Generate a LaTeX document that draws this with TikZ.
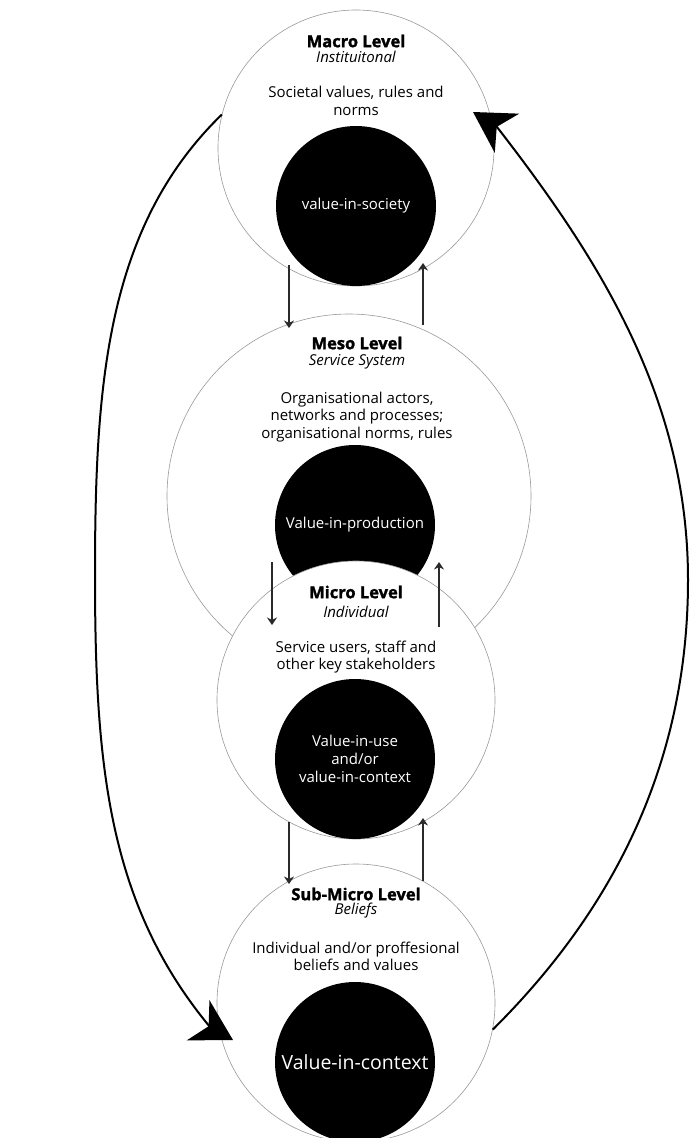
\documentclass[tikz,border=0pt]{standalone}
\usepackage{fontspec}
\setmainfont{Open Sans}
\newfontfamily\headfont{Open Sans}[UprightFont={* Bold}, UprightFeatures={FakeBold=1.6}]
\usetikzlibrary{arrows.meta}
\definecolor{ringgray}{HTML}{9A9A9A}
\definecolor{flowgray}{HTML}{2A2A2A}
\begin{document}
\begin{tikzpicture}[x=1pt,y=-1pt,
  ring/.style={circle, draw=ringgray, line width=0.6pt, fill=white, inner sep=0pt},
  core/.style={circle, fill=black, text=white, inner sep=0pt, minimum size=160pt,
    align=center, font=\fontsize{15}{18}\selectfont},
  leveltitle/.style={font=\fontsize{16.5}{20}\headfont, inner sep=0pt},
  levelsub/.style={font=\fontsize{15}{18}\selectfont\itshape, inner sep=0pt},
  leveldesc/.style={font=\fontsize{15}{17.5}\selectfont, align=center, inner sep=0pt},
  flow/.style={draw=flowgray, line width=1.4pt, -{Stealth[length=7.5pt,width=10pt,inset=2.5pt]}},
  cyclearrow/.style={draw=black, line width=2pt, -{Stealth[length=40pt,width=46pt,inset=12pt]}},
]
\path[clip] (0,0) rectangle (689,1138);

% level circles with their core values
\node[ring, minimum size=276pt] (macro) at (356,148) {};
\node[core] (macrocore) at (356,206) {value-in-society};

\node[ring, minimum size=364pt] (meso) at (349,496) {};
\node[core] (mesocore) at (355,525) {Value-in-production};

\node[ring, minimum size=278pt] (micro) at (356,700) {};
\node[core] (microcore) at (355,759) {Value-in-use\\and/or\\value-in-context};

\node[ring, minimum size=278pt] (sub) at (356,1003) {};
\node[core, font=\fontsize{19.5}{23}\selectfont] (subcore) at (355,1062) {Value-in-context};

% labels
\node[leveltitle] (macrot) at (356,41) {Macro Level};
\node[levelsub] (macros) at (356,57) {Instituitonal};
\node[leveldesc] (macrod) at (356,101) {Societal values, rules and\\norms};

\node[leveltitle] (mesot) at (357,343) {Meso Level};
\node[levelsub] (mesos) at (357,362) {Service System};
\node[leveldesc] (mesod) at (357,417) {Organisational actors,\\networks and processes;\\organisational norms, rules};

\node[leveltitle] (microt) at (356,592) {Micro Level};
\node[levelsub] (micros) at (356,612) {Individual};
\node[leveldesc] (microd) at (356,657) {Service users, staff and\\other key stakeholders};

\node[leveltitle] (subt) at (356,894) {Sub-Micro Level};
\node[levelsub] (subs) at (356,911) {Beliefs};
\node[leveldesc] (subd) at (356,956.5) {Individual and/or proffesional\\beliefs and values};

% flows between neighbouring levels
\coordinate (ma1) at (289,265); \coordinate (me1) at (289,328);
\coordinate (me2) at (423,325); \coordinate (ma2) at (423,263);
\coordinate (me3) at (272,562); \coordinate (mi3) at (272,625);
\coordinate (mi4) at (439,627); \coordinate (me4) at (439,562);
\coordinate (mi5) at (289,822); \coordinate (su5) at (289,884);
\coordinate (su6) at (423,881); \coordinate (mi6) at (423,818);
\draw[flow] (ma1) -- (me1);
\draw[flow] (me2) -- (ma2);
\draw[flow] (me3) -- (mi3);
\draw[flow] (mi4) -- (me4);
\draw[flow] (mi5) -- (su5);
\draw[flow] (su6) -- (mi6);

% outer feedback loop
\coordinate (lmid) at (95,575);
\coordinate (lnotch) at (210,1027);
\coordinate (ltip) at (233,1040);
\coordinate (rmid) at (688,580);
\coordinate (rnotch) at (497,127);
\coordinate (rtip) at (473,112);
\draw[cyclearrow] (macro.166) .. controls (106,227) and (95,385) .. (lmid)
  .. controls (95,765) and (108,904) .. (lnotch) -- (ltip);
\draw[cyclearrow] (sub.-11) .. controls (599,924) and (688,780) .. (rmid)
  .. controls (688,400) and (601,261) .. (rnotch) -- (rtip);
\end{tikzpicture}
\end{document}
